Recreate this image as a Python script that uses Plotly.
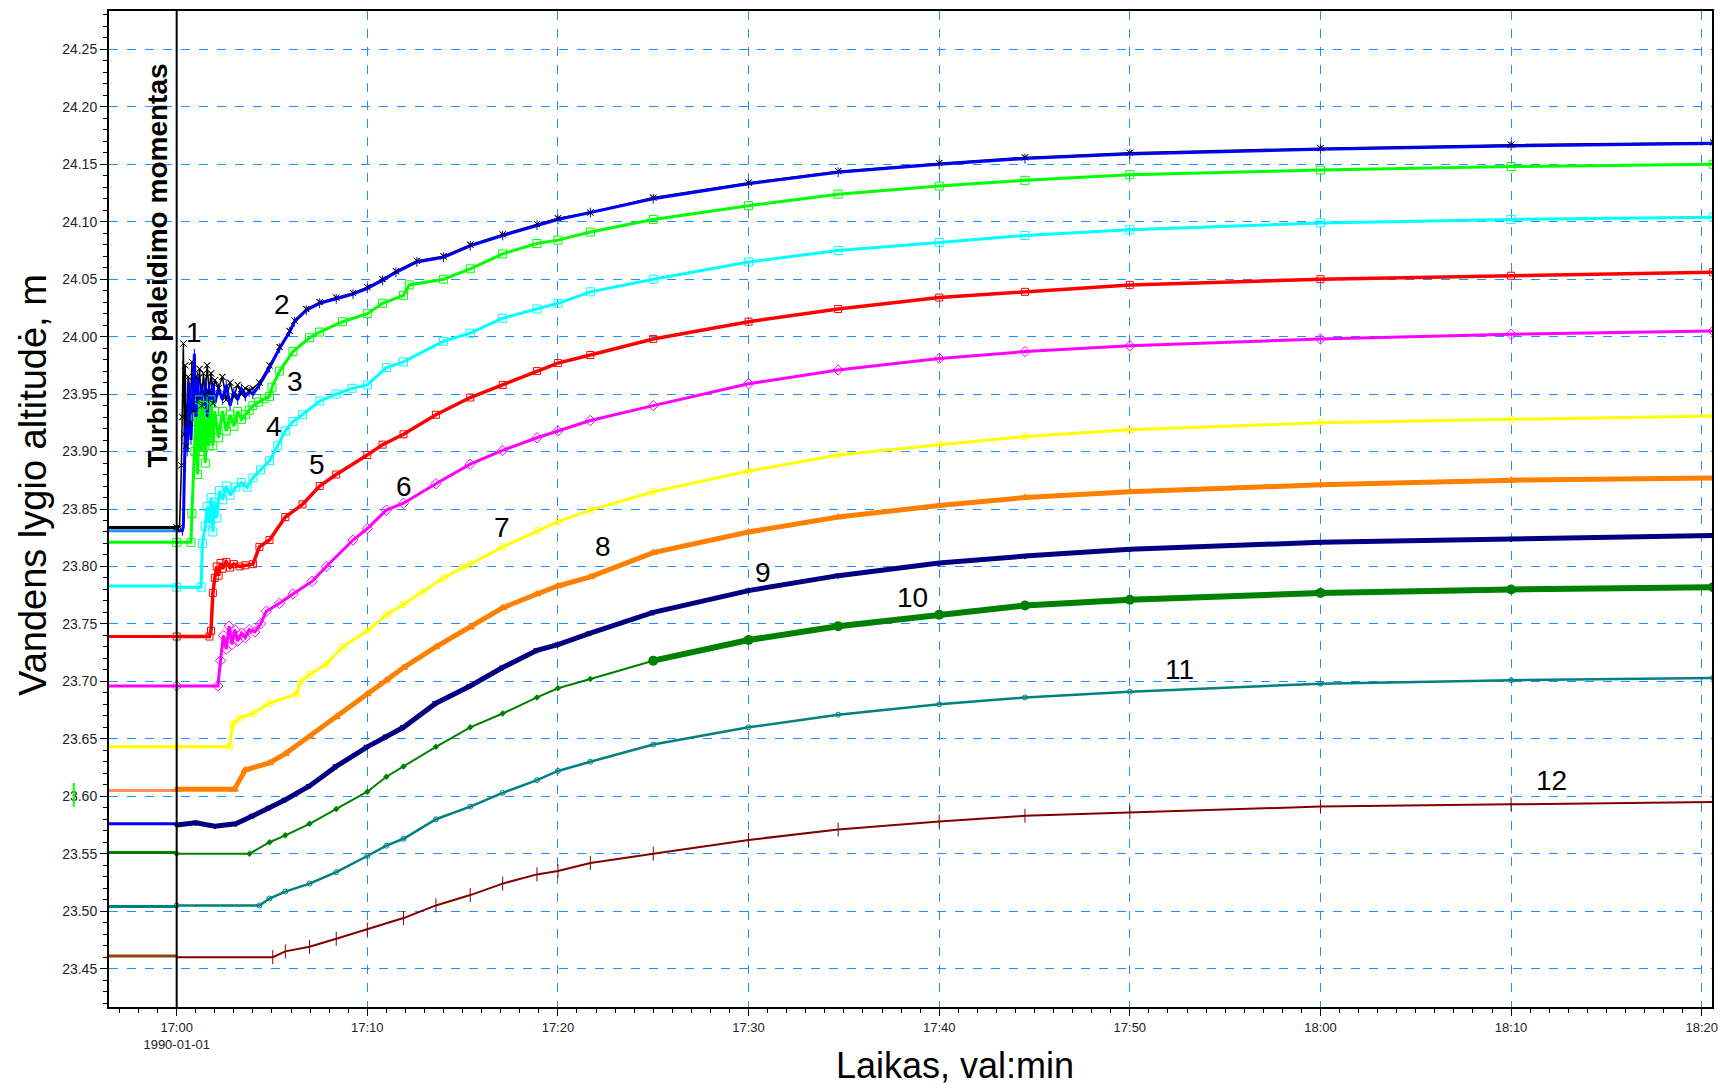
import pandas as pd
import plotly.graph_objects as go

BASE = pd.Timestamp("1990-01-01 17:00:00")

# ---- data: time in minutes after 17:00, water level altitude in m ----
T1 = [0, 0.15, 0.25, 0.3, 0.35, 0.4, 0.45, 0.5, 0.6, 0.7, 0.8, 0.9, 1.0, 1.1, 1.2, 1.3, 1.4, 1.5, 1.6, 1.7, 1.8, 1.9, 2.0, 2.2, 2.4, 2.6, 2.8, 3.0, 3.2, 3.4, 3.6, 3.8, 4.0, 4.34, 4.87, 5.4, 5.92, 6.18, 6.8, 7.5, 8.37, 9.25, 10, 10.8, 11.5, 12.6, 14.0, 15.4, 17.1, 18.9, 20, 21.7, 25, 30, 34.7, 40, 44.5, 50, 60, 70, 80.6]
Y1 = [23.834, 23.834, 23.888, 23.93, 23.994, 23.915, 23.975, 23.905, 23.965, 23.925, 23.978, 23.935, 23.965, 23.945, 23.972, 23.94, 23.968, 23.95, 23.975, 23.952, 23.968, 23.942, 23.962, 23.955, 23.965, 23.945, 23.96, 23.948, 23.958, 23.95, 23.955, 23.953, 23.955, 23.96, 23.975, 23.991, 24.005, 24.014, 24.024, 24.03, 24.034, 24.038, 24.043, 24.05, 24.057, 24.066, 24.07, 24.08, 24.089, 24.098, 24.103, 24.108, 24.121, 24.134, 24.144, 24.151, 24.156, 24.160, 24.164, 24.167, 24.169]

T2 = [0, 0.3, 0.35, 0.45, 0.55, 0.65, 0.75, 0.85, 0.93, 1.0, 1.1, 1.2, 1.3, 1.4, 1.5, 1.6, 1.7, 1.8, 1.9, 2.0, 2.2, 2.4, 2.6, 2.8, 3.0, 3.2, 3.4, 3.6, 3.8, 4.0, 4.34, 4.87, 5.4, 5.92, 6.18, 6.8, 7.5, 8.37, 9.25, 10, 10.8, 11.5, 12.6, 14.0, 15.4, 17.1, 18.9, 20, 21.7, 25, 30, 34.7, 40, 44.5, 50, 60, 70, 80.6]
Y2 = [23.831, 23.831, 23.835, 23.92, 23.9, 23.96, 23.91, 23.95, 23.985, 23.93, 23.965, 23.915, 23.955, 23.935, 23.96, 23.93, 23.955, 23.94, 23.96, 23.942, 23.955, 23.945, 23.958, 23.94, 23.952, 23.945, 23.955, 23.948, 23.952, 23.95, 23.958, 23.973, 23.99, 24.004, 24.013, 24.023, 24.029, 24.033, 24.037, 24.042, 24.049, 24.056, 24.065, 24.069, 24.079, 24.088, 24.097, 24.102, 24.108, 24.120, 24.133, 24.143, 24.150, 24.155, 24.159, 24.163, 24.166, 24.168]

T3 = [0, 0.75, 0.8, 0.95, 1.0, 1.1, 1.2, 1.3, 1.4, 1.5, 1.6, 1.7, 1.8, 1.9, 2.0, 2.2, 2.4, 2.6, 2.8, 3.0, 3.2, 3.4, 3.6, 3.8, 4.0, 4.3, 4.6, 4.87, 5.0, 5.4, 6.1, 6.97, 7.5, 8.7, 10, 10.8, 11.9, 12.2, 14, 15.4, 17.1, 18.9, 20, 21.7, 25, 30, 34.7, 40, 44.5, 50, 60, 70, 80.6]
Y3 = [23.821, 23.821, 23.846, 23.90, 23.93, 23.88, 23.945, 23.90, 23.94, 23.89, 23.93, 23.905, 23.945, 23.905, 23.935, 23.912, 23.935, 23.918, 23.932, 23.922, 23.935, 23.928, 23.932, 23.936, 23.94, 23.943, 23.946, 23.948, 23.956, 23.97, 23.987, 23.999, 24.004, 24.013, 24.02, 24.029, 24.036, 24.045, 24.05, 24.059, 24.072, 24.081, 24.084, 24.091, 24.102, 24.114, 24.124, 24.131, 24.136, 24.141, 24.145, 24.148, 24.150]

T4 = [0, 1.28, 1.35, 1.5, 1.6, 1.7, 1.8, 1.9, 2.0, 2.1, 2.24, 2.4, 2.6, 2.8, 3.1, 3.4, 3.7, 4.0, 4.4, 4.87, 5.3, 5.7, 6.1, 6.6, 7.5, 8.37, 9.2, 10, 11, 11.9, 14, 15.4, 17.1, 18.9, 20, 21.7, 25, 30, 34.7, 40, 44.5, 50, 60, 70, 80.6]
Y4 = [23.782, 23.782, 23.82, 23.835, 23.852, 23.838, 23.86, 23.83, 23.856, 23.842, 23.866, 23.858, 23.87, 23.862, 23.869, 23.873, 23.869, 23.877, 23.884, 23.892, 23.905, 23.918, 23.926, 23.932, 23.944, 23.95, 23.955, 23.958, 23.973, 23.978, 23.996, 24.003, 24.016, 24.024, 24.029, 24.039, 24.05, 24.065, 24.075, 24.082, 24.088, 24.093, 24.099, 24.102, 24.104]

T5 = [0, 1.72, 1.8, 1.9, 2.0, 2.1, 2.2, 2.3, 2.4, 2.6, 2.8, 3.0, 3.3, 3.6, 4.0, 4.34, 4.87, 5.7, 6.6, 7.5, 8.37, 10, 10.8, 11.9, 13.6, 15.4, 17.1, 18.9, 20, 21.7, 25, 30, 34.7, 40, 44.5, 50, 60, 70, 80.6]
Y5 = [23.739, 23.739, 23.744, 23.777, 23.79, 23.80, 23.792, 23.803, 23.798, 23.804, 23.799, 23.802, 23.80, 23.801, 23.802, 23.817, 23.823, 23.843, 23.854, 23.870, 23.880, 23.897, 23.906, 23.915, 23.932, 23.947, 23.958, 23.970, 23.977, 23.984, 23.998, 24.013, 24.024, 24.034, 24.039, 24.045, 24.050, 24.053, 24.056]

T6 = [0, 2.16, 2.3, 2.45, 2.6, 2.75, 2.9, 3.05, 3.2, 3.4, 3.6, 3.8, 4.1, 4.4, 4.7, 5.4, 6.1, 7.1, 7.85, 9.25, 10, 11, 11.9, 13.6, 15.4, 17.1, 18.9, 20, 21.7, 25, 30, 34.7, 40, 44.5, 50, 60, 70, 80.6]
Y6 = [23.696, 23.696, 23.718, 23.74, 23.728, 23.748, 23.732, 23.745, 23.735, 23.742, 23.738, 23.745, 23.743, 23.75, 23.761, 23.768, 23.776, 23.787, 23.80, 23.823, 23.833, 23.849, 23.855, 23.872, 23.889, 23.901, 23.912, 23.918, 23.927, 23.940, 23.959, 23.971, 23.981, 23.987, 23.992, 23.998, 24.002, 24.005]

T7 = [0, 2.77, 2.94, 3.3, 4.0, 4.87, 6.27, 6.5, 6.97, 7.85, 8.7, 10, 11, 11.9, 12.9, 14, 15.0, 15.4, 17.1, 18.9, 20, 21.7, 25, 30, 34.7, 40, 44.5, 50, 60, 70, 80.6]
Y7 = [23.643, 23.643, 23.663, 23.668, 23.672, 23.681, 23.689, 23.70, 23.706, 23.715, 23.730, 23.744, 23.758, 23.767, 23.778, 23.790, 23.799, 23.802, 23.817, 23.831, 23.839, 23.849, 23.865, 23.883, 23.897, 23.906, 23.913, 23.919, 23.925, 23.928, 23.931]

T8 = [0, 3.03, 3.6, 4.87, 5.7, 6.97, 8.37, 10, 11, 11.9, 13.6, 15.4, 17.1, 18.9, 20, 21.7, 25, 30, 34.7, 40, 44.5, 50, 60, 70, 80.6]
Y8 = [23.606, 23.606, 23.623, 23.629, 23.637, 23.652, 23.669, 23.689, 23.701, 23.712, 23.730, 23.747, 23.764, 23.776, 23.783, 23.791, 23.812, 23.830, 23.843, 23.853, 23.860, 23.865, 23.871, 23.875, 23.877]

T9 = [0, 1.0, 2.0, 3.1, 4.0, 4.87, 5.7, 6.97, 8.37, 10, 11, 11.9, 13.6, 15.4, 17.1, 18.9, 20, 21.7, 25, 30, 34.7, 40, 44.5, 50, 60, 70, 80.6]
Y9 = [23.575, 23.577, 23.574, 23.576, 23.583, 23.590, 23.597, 23.609, 23.626, 23.643, 23.652, 23.660, 23.681, 23.696, 23.712, 23.727, 23.732, 23.742, 23.760, 23.779, 23.792, 23.803, 23.809, 23.815, 23.821, 23.824, 23.827]

T10 = [0, 3.82, 4.87, 5.7, 6.97, 8.37, 10, 11, 11.9, 13.6, 15.4, 17.1, 18.9, 20, 21.7, 25, 30, 34.7, 40, 44.5, 50, 60, 70, 80.6]
Y10 = [23.550, 23.550, 23.560, 23.566, 23.576, 23.589, 23.604, 23.617, 23.626, 23.643, 23.660, 23.672, 23.686, 23.694, 23.702, 23.718, 23.736, 23.748, 23.758, 23.766, 23.771, 23.777, 23.780, 23.782]

T11 = [0, 4.34, 4.87, 5.7, 6.97, 8.37, 10, 11, 11.9, 13.6, 15.4, 17.1, 18.9, 20, 21.7, 25, 30, 34.7, 40, 44.5, 50, 60, 70, 80.6]
Y11 = [23.505, 23.505, 23.511, 23.517, 23.524, 23.534, 23.548, 23.557, 23.563, 23.580, 23.591, 23.603, 23.614, 23.622, 23.630, 23.645, 23.660, 23.671, 23.680, 23.686, 23.691, 23.698, 23.701, 23.703]

T12 = [0, 5.04, 5.7, 6.97, 8.37, 10, 11.9, 13.6, 15.4, 17.1, 18.9, 20, 21.7, 25, 30, 34.7, 40, 44.5, 50, 60, 70, 80.6]
Y12 = [23.460, 23.460, 23.465, 23.469, 23.476, 23.484, 23.494, 23.505, 23.514, 23.524, 23.532, 23.535, 23.542, 23.550, 23.562, 23.571, 23.578, 23.583, 23.586, 23.591, 23.593, 23.595]

# levels before turbine start (drawn from left edge to 17:00)
PRE_LEVELS = [23.834, 23.831, 23.821, 23.783, 23.739, 23.696, 23.643, 23.605, 23.576, 23.551, 23.504, 23.461]
PRE_T = [-4.0, 0.0]

# curve number labels: (minutes, level)
LABEL_TEXT = ["1", "2", "3", "4", "5", "6", "7", "8", "9", "10", "11", "12"]
LABEL_T = [0.91, 5.53, 6.23, 5.13, 7.38, 11.95, 17.04, 22.36, 30.74, 38.6, 52.58, 72.12]
LABEL_Y = [24.004, 24.028, 23.961, 23.922, 23.889, 23.870, 23.834, 23.817, 23.795, 23.773, 23.710, 23.614]

X_TICK_MIN = [0, 10, 20, 30, 40, 50, 60, 70, 80]
X_TICK_TEXT = ["17:00<br>1990-01-01", "17:10", "17:20", "17:30", "17:40", "17:50", "18:00", "18:10", "18:20"]

# ---- styles ----
COLORS = ["#000000", "#0000FF", "#00FF00", "#00FFFF", "#FF0000", "#FF00FF",
          "#FFFF00", "#FF8000", "#000080", "#008000", "#008080", "#800000"]
PRE_COLORS = ["#000000", "#1E90FF", "#00FF00", "#00FFFF", "#FF0000", "#FF00FF",
              "#FFFF00", "#FF8C5A", "#0000FF", "#008000", "#008080", "#8B4513"]
SYMBOLS = ["x-thin-open", "line-ns-open", "square-open", "square-open", "square-open", "diamond-open",
           "circle-open", "triangle-up", "triangle-down", "diamond", "circle-open", "line-ns-open"]
MSIZES = [6, 7, 8, 8, 7, 8, 7, 7, 6, 5, 5, 10]
LWIDTH = [1.5, 3, 3, 3, 3.5, 3, 3, 5, 5, 2, 2.5, 2]

TS = [T1, T2, T3, T4, T5, T6, T7, T8, T9, T10, T11, T12]
YS = [Y1, Y2, Y3, Y4, Y5, Y6, Y7, Y8, Y9, Y10, Y11, Y12]


def tt(mins):
    return BASE + pd.to_timedelta(pd.Series(mins, dtype=float), unit="m")


fig = go.Figure()

# pre-start levels
for lvl, col in zip(PRE_LEVELS, PRE_COLORS):
    fig.add_trace(go.Scatter(x=tt(PRE_T), y=[lvl, lvl], mode="lines",
                             line=dict(color=col, width=3), hoverinfo="skip", showlegend=False))

for i in range(12):
    if i == 9:
        # curve 10: thin line early, heavy beaded line later
        k = next(j for j, t in enumerate(TS[i]) if t >= 25)
        fig.add_trace(go.Scatter(
            x=tt(TS[i][:k + 1]), y=YS[i][:k + 1], mode="lines+markers",
            line=dict(color=COLORS[i], width=2),
            marker=dict(symbol="diamond", size=5, color=COLORS[i]), showlegend=False))
        fig.add_trace(go.Scatter(
            x=tt(TS[i][k:]), y=YS[i][k:], mode="lines+markers",
            line=dict(color=COLORS[i], width=6),
            marker=dict(symbol="circle", size=10, color=COLORS[i]), showlegend=False))
        continue
    fig.add_trace(go.Scatter(
        x=tt(TS[i]), y=YS[i], mode="lines+markers",
        line=dict(color=COLORS[i], width=LWIDTH[i]),
        marker=dict(symbol=SYMBOLS[i], size=MSIZES[i], color=COLORS[i],
                    line=dict(color=COLORS[i], width=1)),
        showlegend=False))

# black markers of curve 1 on top of blue curve 2
fig.add_trace(go.Scatter(x=tt(T1), y=Y1, mode="markers",
                         marker=dict(symbol="x-thin-open", size=6, color="#000000",
                                     line=dict(color="#000000", width=1)),
                         showlegend=False))

XMIN, XMAX = -3.55, 80.54
YMIN, YMAX = 23.4166, 24.2834
GRID = "#1E90FF"

fig.update_xaxes(
    type="date",
    range=[BASE + pd.Timedelta(minutes=XMIN), BASE + pd.Timedelta(minutes=XMAX)],
    tickmode="array", tickvals=list(tt(X_TICK_MIN)), ticktext=X_TICK_TEXT,
    ticks="outside", ticklen=7, tickwidth=1, tickcolor="#000000",
    tickfont=dict(family="Liberation Sans Narrow, Arial Narrow, Liberation Sans, Arial", size=13, color="#222222"),
    showline=True, linecolor="#000000", linewidth=2, mirror=True,
    showgrid=True, gridcolor=GRID, gridwidth=1, griddash="dash",
    minor=dict(ticks="outside", ticklen=4, tickcolor="#000000", dtick=60000,
               tick0="1990-01-01 17:00:00", showgrid=False),
    zeroline=False,
)
fig.update_yaxes(
    range=[YMIN, YMAX], tickmode="linear", tick0=23.45, dtick=0.05, tickformat=".2f",
    ticks="outside", ticklen=7, tickwidth=1, tickcolor="#000000",
    tickfont=dict(family="Liberation Sans, Arial", size=14, color="#222222"),
    showline=True, linecolor="#000000", linewidth=2, mirror=True,
    showgrid=True, gridcolor=GRID, gridwidth=1, griddash="dash",
    minor=dict(ticks="outside", ticklen=4, tickcolor="#000000", dtick=0.01, showgrid=False),
    zeroline=False,
)

# turbine start line
fig.add_shape(type="line", xref="x", yref="paper", x0=BASE, x1=BASE, y0=0, y1=1,
              line=dict(color="#000000", width=2))

# small green mark near the y labels
fig.add_shape(type="line", xref="paper", yref="paper", x0=-0.022, x1=-0.022, y0=0.201, y1=0.225,
              line=dict(color="#00FF00", width=2))

annotations = []
for txt, t, y in zip(LABEL_TEXT, LABEL_T, LABEL_Y):
    annotations.append(dict(x=BASE + pd.Timedelta(minutes=t), y=y, xref="x", yref="y", text=txt,
                            xanchor="center", yanchor="middle", showarrow=False,
                            font=dict(family="Liberation Sans, Arial", size=28, color="#000000")))
annotations.append(dict(x=BASE + pd.Timedelta(minutes=-1.03), y=24.062, xref="x", yref="y",
                        text="<b>Turbinos paleidimo momentas</b>", textangle=-90, showarrow=False,
                        xanchor="center", yanchor="middle",
                        font=dict(family="Liberation Sans, Arial", size=28, color="#000000")))
annotations.append(dict(x=-0.0474, y=23.871, xref="paper", yref="y", text="Vandens lygio altitudė, m",
                        textangle=-90, showarrow=False, xanchor="center", yanchor="middle",
                        font=dict(family="Liberation Sans, Arial", size=38, color="#000000")))
annotations.append(dict(x=0.528, y=-0.059, xref="paper", yref="paper", text="Laikas, val:min",
                        showarrow=False, xanchor="center", yanchor="middle",
                        font=dict(family="Liberation Sans, Arial", size=36, color="#000000")))

fig.update_layout(
    width=1728, height=1088,
    margin=dict(l=101, r=24, t=1, b=89),
    plot_bgcolor="#FFFFFF", paper_bgcolor="#FFFFFF",
    annotations=annotations,
    showlegend=False,
)

fig.write_html("out.html")
